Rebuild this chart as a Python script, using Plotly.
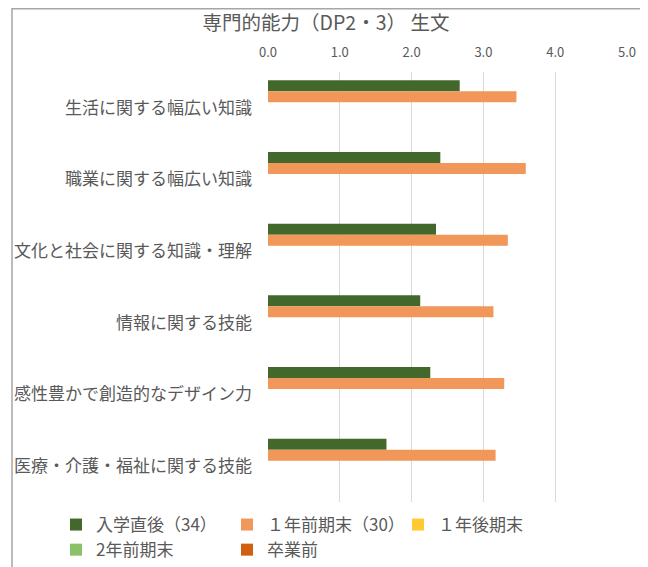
import plotly.graph_objects as go

categories = ["生活に関する幅広い知識", "職業に関する幅広い知識", "文化と社会に関する知識・理解",
              "情報に関する技能", "感性豊かで創造的なデザイン力", "医療・介護・福祉に関する技能"]
series_names = ["入学直後（34）", "１年前期末（30）", "１年後期末", "2年前期末", "卒業前"]
entry_after = [2.67, 2.40, 2.34, 2.12, 2.26, 1.65]
first_year_first = [3.46, 3.59, 3.34, 3.14, 3.29, 3.17]
first_year_second = [None] * 6
second_year_first = [None] * 6
before_grad = [None] * 6
series_values = [entry_after, first_year_first, first_year_second, second_year_first, before_grad]
colors = ["#43682B", "#F1975A", "#FFC934", "#8CC168", "#D0600F"]
x_ticks = [0, 1, 2, 3, 4, 5]

FONT = "Noto Sans CJK JP, Noto Sans, sans-serif"
TXT = "#595959"

fig = go.Figure()
for name, vals, col in zip(series_names, series_values, colors):
    fig.add_trace(go.Bar(
        y=categories, x=vals, name=name, orientation="h",
        marker=dict(color=col, line=dict(width=0)),
    ))

# the page body adds an 8px offset; the figure is sized to fill the rest of the window
W, H = 640, 559
L, R, T, B = 260, 21, 64, 65
pw, ph = W - L - R, H - T - B

def px_x(x):
    return (x - L) / pw

def px_y(y):
    return (H - B - y) / ph

fig.update_layout(
    width=W, height=H,
    margin=dict(l=L, r=R, t=T, b=B, pad=0, autoexpand=False),
    paper_bgcolor="white", plot_bgcolor="white",
    barmode="group", bargap=0.232, bargroupgap=0,
    font=dict(family=FONT, color=TXT),
    title=dict(text="専門的能力（DP2・3） 生文", x=px_x(318), xref="paper", xanchor="center",
               y=1 - 15 / H, yanchor="middle", font=dict(size=19.5, color=TXT, family=FONT)),
    xaxis=dict(side="top", range=[0, 5], tickvals=x_ticks,
               ticktext=[f"{v:.1f}" for v in x_ticks],
               showgrid=True, gridcolor="#D9D9D9", gridwidth=1,
               zeroline=False, showline=False, ticks="", automargin=False,
               tickfont=dict(size=13, color=TXT, family=FONT), ticklabelstandoff=11,
               fixedrange=True),
    yaxis=dict(autorange="reversed", showgrid=False, showline=False, zeroline=False, ticks="",
               automargin=False,
               tickfont=dict(size=17, color=TXT, family=FONT), ticklabelstandoff=15,
               fixedrange=True),
    legend=dict(orientation="h", x=px_x(48), xanchor="left", y=px_y(560), yanchor="bottom",
                traceorder="normal", font=dict(size=17, color=TXT, family=FONT),
                entrywidth=126, entrywidthmode="pixels", itemwidth=30,
                bgcolor="rgba(0,0,0,0)", tracegroupgap=0),
    shapes=[dict(type="rect", xref="paper", yref="paper",
                 x0=px_x(4), x1=px_x(636), y0=px_y(575), y1=px_y(0.75),
                 line=dict(color="#A6A6A6", width=1.5), fillcolor="rgba(0,0,0,0)", layer="below")],
    showlegend=True,
)

fig.write_html("out.html")
